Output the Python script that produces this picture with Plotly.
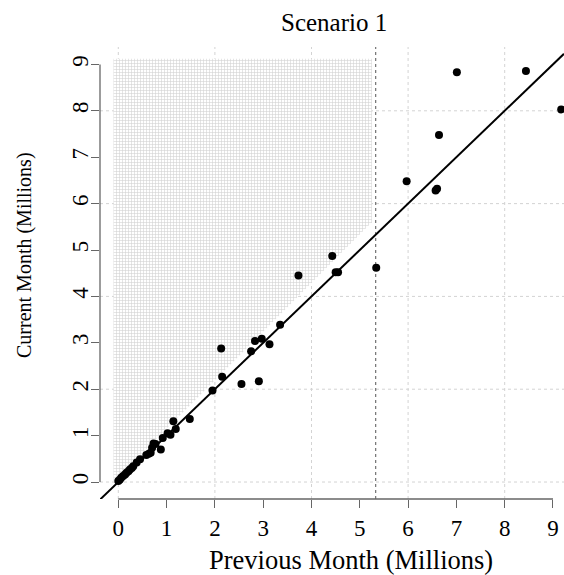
import plotly.graph_objects as go

# ---- data ----
prev_month = [0.0, 0.03, 0.06, 0.10, 0.14, 0.17, 0.21, 0.24, 0.28, 0.31, 0.38, 0.45,
              0.58, 0.63, 0.67, 0.70, 0.73, 0.77, 0.88, 0.92, 1.02, 1.08, 1.14, 1.19,
              1.48, 1.95, 2.13, 2.15, 2.55, 2.75, 2.83, 2.91, 2.97, 3.13, 3.35, 3.73,
              4.43, 4.50, 4.55, 5.34, 5.97, 6.57, 6.60, 6.64, 7.01, 8.44, 9.17]
curr_month = [0.02, 0.05, 0.09, 0.13, 0.16, 0.20, 0.23, 0.27, 0.30, 0.34, 0.42, 0.49,
              0.58, 0.61, 0.63, 0.74, 0.83, 0.82, 0.70, 0.95, 1.05, 1.02, 1.31, 1.14,
              1.36, 1.97, 2.88, 2.27, 2.11, 2.82, 3.04, 2.17, 3.09, 2.97, 3.39, 4.45,
              4.87, 4.52, 4.52, 4.62, 6.48, 6.28, 6.32, 7.48, 8.83, 8.86, 8.03]

tick_values = [0, 1, 2, 3, 4, 5, 6, 7, 8, 9]
tick_labels = [str(v) for v in tick_values]
grid_values = [0, 2, 4, 6, 8]

threshold_x = 5.33           # dashed vertical line
hatch_x = [-0.10, -0.10, 5.25, 5.25]
hatch_y = [0.00, 9.12, 9.12, 5.60]

x_range = [-0.379, 9.228]
y_range = [-0.366, 9.375]

FONT = "Liberation Serif, Times New Roman, serif"
AXIS_COL = "#666666"

fig = go.Figure()

# hatched region
fig.add_trace(go.Scatter(
    x=hatch_x + [hatch_x[0]], y=hatch_y + [hatch_y[0]],
    mode="lines", line=dict(width=0), fill="toself",
    fillcolor="rgba(0,0,0,0)",
    fillpattern=dict(shape="+", size=3, solidity=0.34, fgcolor="#a2a2a2", bgcolor="white"),
    hoverinfo="skip", showlegend=False))

# reference line y = x
fig.add_trace(go.Scatter(
    x=x_range, y=x_range, mode="lines",
    line=dict(color="black", width=2), showlegend=False, hoverinfo="skip"))

# points
fig.add_trace(go.Scatter(
    x=prev_month, y=curr_month, mode="markers",
    marker=dict(color="black", size=8, line=dict(width=0)),
    cliponaxis=False, showlegend=False))

shapes = []
for g in grid_values:
    shapes.append(dict(type="line", xref="x", yref="paper", x0=g, x1=g, y0=0, y1=1,
                       line=dict(color="#d3d3d3", width=1, dash="dot"), layer="below"))
    shapes.append(dict(type="line", xref="paper", yref="y", x0=0, x1=1, y0=g, y1=g,
                       line=dict(color="#d3d3d3", width=1, dash="dot"), layer="below"))
# dashed threshold
shapes.append(dict(type="line", xref="x", yref="paper", x0=threshold_x, x1=threshold_x,
                   y0=0, y1=1, line=dict(color="#555555", width=1, dash="3px,3px"),
                   layer="below"))
# R-style axis lines spanning first..last tick
shapes.append(dict(type="line", xref="x", yref="paper", x0=tick_values[0], x1=tick_values[-1],
                   y0=0, y1=0, line=dict(color=AXIS_COL, width=1.3)))
shapes.append(dict(type="line", xref="paper", yref="y", x0=0, x1=0,
                   y0=tick_values[0], y1=tick_values[-1], line=dict(color=AXIS_COL, width=1.3)))

fig.update_layout(
    width=564, height=575,
    margin=dict(l=100, r=0, t=47, b=76, autoexpand=False),
    plot_bgcolor="white", paper_bgcolor="white",
    font=dict(family=FONT, color="black"),
    shapes=shapes,
    xaxis=dict(range=x_range, tickvals=tick_values, ticktext=tick_labels,
               ticks="outside", ticklen=8, tickwidth=1.3, tickcolor=AXIS_COL,
               showgrid=False, zeroline=False, showline=False, automargin=False,
               tickfont=dict(family=FONT, size=23, color="black")),
    yaxis=dict(range=y_range, tickvals=tick_values, ticktext=tick_labels,
               ticks="outside", ticklen=8, tickwidth=1.3, tickcolor=AXIS_COL,
               showgrid=False, zeroline=False, showline=False, tickangle=-90,
               automargin=False, ticklabelstandoff=-6,
               tickfont=dict(family=FONT, size=23, color="black")),
    annotations=[
        dict(text="Scenario 1", xref="paper", yref="paper", x=(334 - 100) / 464,
             y=(499 - 22) / 452, xanchor="center", yanchor="middle", showarrow=False,
             font=dict(family=FONT, size=25, color="black")),
        dict(text="Previous Month (Millions)", xref="paper", yref="paper",
             x=(351 - 100) / 464, y=(499 - 560) / 452, xanchor="center", yanchor="middle",
             showarrow=False, font=dict(family=FONT, size=26.5, color="black")),
        dict(text="Current Month (Millions)", xref="paper", yref="paper",
             x=(24 - 100) / 464, y=(499 - 255) / 452, xanchor="center", yanchor="middle",
             textangle=-90, showarrow=False, font=dict(family=FONT, size=20, color="black")),
    ],
)

fig.write_html("out.html",
               config={"displayModeBar": False},
               post_script="document.body.style.margin='0px';"
                           "document.body.style.overflow='hidden';")
